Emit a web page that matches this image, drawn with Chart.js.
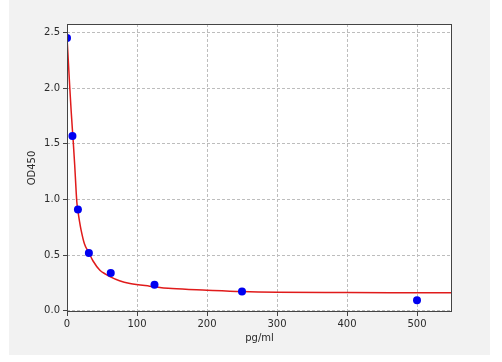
<!DOCTYPE html>
<html>
<head>
<meta charset="utf-8">
<script src="https://cdn.jsdelivr.net/npm/chart.js@4/dist/chart.umd.min.js"></script>
<style>
  html, body { margin: 0; padding: 0; background: #ffffff; }
  #frame {
    position: absolute; left: 9px; top: 0; width: 481px; height: 355px;
    background: #f2f2f2;
  }
  #chart { display: block; }
</style>
</head>
<body>
<div id="frame"><canvas id="chart" width="481" height="355"></canvas></div>
<script>
// standard points (concentration pg/ml vs OD450)
const stdConc = [0, 7.8, 15.6, 31.25, 62.5, 125, 250, 500];
const stdOD   = [2.45, 1.57, 0.91, 0.52, 0.34, 0.235, 0.175, 0.095];

// fitted curve
const fitConc = [0, 2, 4, 6, 8, 9, 11, 14, 16, 18, 20, 25, 31, 37, 47, 55, 62, 75, 90, 118, 150, 200, 250, 300, 400, 500, 550];
const fitOD   = [2.46, 2.23, 2.0, 1.79, 1.60, 1.51, 1.31, 0.98, 0.88, 0.80, 0.73, 0.60, 0.525, 0.45, 0.365, 0.33, 0.305, 0.27, 0.246, 0.222, 0.20, 0.186, 0.174, 0.168, 0.165, 0.163, 0.162];

const xTicks = [0, 100, 200, 300, 400, 500];
const yTicks = [0.0, 0.5, 1.0, 1.5, 2.0, 2.5];

const FONT = { family: 'DejaVu Sans', size: 10 };
const TEXT = '#2b2b2b';
const AXIS = '#444444';

/* white plot background + box around it, like the matplotlib frame */
const frameBox = {
    id: 'frameBox',
    beforeDraw(chart) {
        const { ctx, chartArea: a } = chart;
        ctx.save();
        ctx.fillStyle = '#ffffff';
        ctx.fillRect(a.left, a.top, a.right - a.left, a.bottom - a.top);
        ctx.restore();
    },
    afterDraw(chart) {
        const { ctx, chartArea: a } = chart;
        ctx.save();
        ctx.strokeStyle = AXIS;
        ctx.lineWidth = 1;
        ctx.strokeRect(a.left + 0.5, a.top + 0.5, a.right - a.left - 1, a.bottom - a.top - 1);
        ctx.restore();
    }
};

new Chart(document.getElementById('chart').getContext('2d'), {
    type: 'scatter',
    data: {
        datasets: [
            {
                label: 'Standards',
                data: stdConc.map((x, i) => ({ x, y: stdOD[i] })),
                pointRadius: 4,
                pointBackgroundColor: '#0000f0',
                pointBorderWidth: 0,
                showLine: false,
            },
            {
                label: 'Fit',
                type: 'line',
                data: fitConc.map((x, i) => ({ x, y: fitOD[i] })),
                borderColor: '#e01b1b',
                borderWidth: 1.5,
                pointRadius: 0,
                cubicInterpolationMode: 'monotone',
                fill: false,
            },
        ],
    },
    options: {
        responsive: false,
        animation: false,
        layout: { padding: { left: 17, right: 38, top: 24, bottom: 11 } },
        plugins: {
            legend: { display: false },
            tooltip: { enabled: false },
        },
        scales: {
            x: {
                type: 'linear',
                min: 0,
                max: 550,
                afterFit: s => { s.height = 32; },
                afterBuildTicks: s => { s.ticks = xTicks.map(v => ({ value: v })); },
                grid: { color: '#bdbdbd', tickColor: AXIS, tickLength: 4, lineWidth: 1 },
                border: { display: false, dash: [3, 2] },
                ticks: { color: TEXT, font: FONT, padding: 2, maxRotation: 0, callback: v => String(v) },
                title: { display: true, text: 'pg/ml', color: TEXT, font: FONT, padding: 0 },
            },
            y: {
                type: 'linear',
                min: -0.01,
                max: 2.575,
                afterFit: s => { s.width = 41; },
                afterBuildTicks: s => { s.ticks = yTicks.map(v => ({ value: v })); },
                grid: { color: '#bdbdbd', tickColor: AXIS, tickLength: 4, lineWidth: 1 },
                border: { display: false, dash: [3, 2] },
                ticks: { color: TEXT, font: FONT, padding: 3, callback: v => v.toFixed(1) },
                title: { display: true, text: 'OD450', color: TEXT, font: FONT, padding: 0 },
            },
        },
    },
    plugins: [frameBox],
});
</script>
</body>
</html>
